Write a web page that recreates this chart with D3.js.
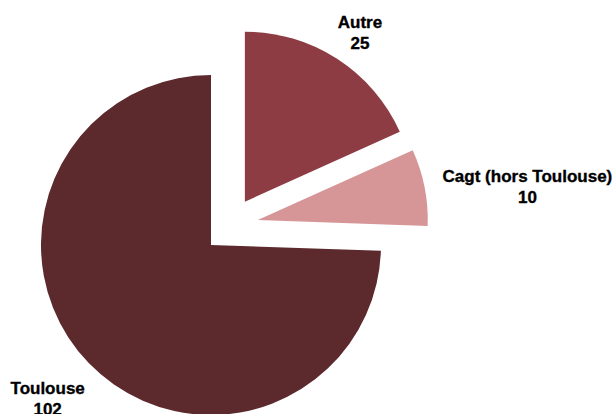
<!DOCTYPE html>
<html>
<head>
<meta charset="utf-8">
<script src="https://cdn.jsdelivr.net/npm/d3@7"></script>
<style>
  body { margin: 0; background: #fff; }
  svg { display: block; }
  text { font-family: "Liberation Sans Narrow", "Arial Narrow", sans-serif; font-weight: bold; font-size: 17px; fill: #000; stroke: #000; stroke-width: 0.35px; }
</style>
</head>
<body>
<div id="chart"></div>
<script>
// data
var categories = ["Autre", "Cagt (hors Toulouse)", "Toulouse"];
var values = [25, 10, 102];
var colors = ["#8c3c42", "#d69596", "#5c292c"];

// explosion of slices (degrees from 12 o'clock, px)
var explodeAngle = [38, 62, 0];
var explodeDist = [55, 53, 0];

var W = 614, H = 414;
var center = {x: 211, y: 245};
var radius = 170;
var lineH = 21;
var labelGap = 20, labelDrop = 8;

var svg = d3.select("#chart").append("svg")
    .attr("width", W).attr("height", H)
    .attr("viewBox", [0, 0, W, H]);

var pie = d3.pie().sort(null).value(d => d.value);
var data = categories.map((c, i) => ({name: c, value: values[i], i: i}));
var arcs = pie(data);

var arc = d3.arc().innerRadius(0).outerRadius(radius);

function offset(i) {
    var a = explodeAngle[i] * Math.PI / 180;
    return [Math.sin(a) * explodeDist[i], -Math.cos(a) * explodeDist[i]];
}

var g = svg.append("g")
    .attr("transform", `translate(${center.x},${center.y})`);

g.selectAll("path")
  .data(arcs)
  .join("path")
    .attr("d", arc)
    .attr("fill", d => colors[d.data.i])
    .attr("transform", d => {
        var o = offset(d.data.i);
        return `translate(${o[0]},${o[1]})`;
    });

// labels placed outside each slice
var labels = g.selectAll("g.lab")
  .data(arcs)
  .join("g")
    .attr("class", "lab");

labels.append("text")
    .attr("text-anchor", "middle")
    .attr("y", 0)
    .text(d => d.data.name);
labels.append("text")
    .attr("text-anchor", "middle")
    .attr("y", lineH)
    .text(d => d.data.value);

labels.each(function(d) {
    var el = d3.select(this);
    var bb = this.getBBox();
    var mid = (d.startAngle + d.endAngle) / 2;
    var o = offset(d.data.i);
    var r = radius + labelGap;
    var px = o[0] + Math.sin(mid) * r;
    var py = o[1] - Math.cos(mid) * r;
    var cx = px + Math.sin(mid) * bb.width / 2;
    var cy = py - Math.cos(mid) * bb.height / 2 + labelDrop;
    var dx = cx - (bb.x + bb.width / 2);
    var dy = cy - (bb.y + bb.height / 2);
    el.attr("transform", `translate(${dx},${dy})`);
});
</script>
</body>
</html>
